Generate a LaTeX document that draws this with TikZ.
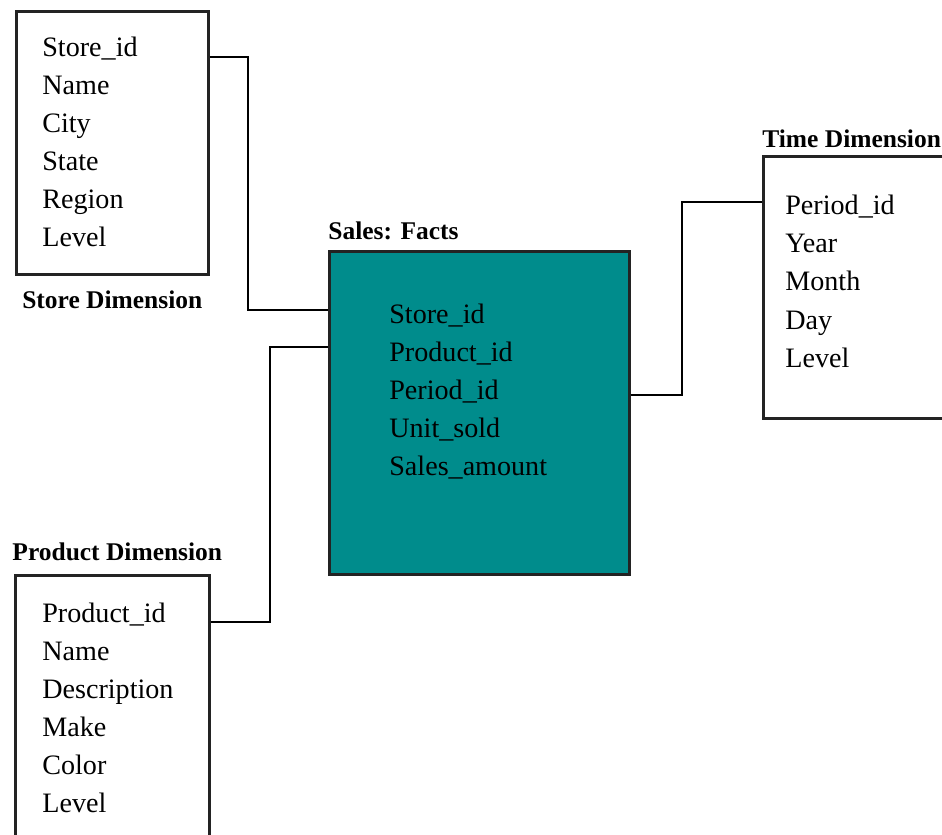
\documentclass[tikz,border=0pt]{standalone}
\usepackage{fontspec}
\setmainfont{Liberation Serif}
\usetikzlibrary{positioning}
\tikzstyle{screen} = [x = 0.02cm, y = -0.02cm]
\definecolor{factColor}{RGB}{0,140,140}
\definecolor{boxLineColor}{RGB}{35,35,35}
\tikzstyle{dimBoxStyle} = [draw=boxLineColor, line width=1.5pt, fill=white, anchor=north west, inner sep=0pt]
\tikzstyle{factBoxStyle} = [dimBoxStyle, fill=factColor]
\tikzstyle{fieldText} = [anchor=base west, inner sep=0pt, font=\fontsize{16}{19}\selectfont]
\tikzstyle{tableTitle} = [inner sep=0pt, font=\fontsize{14.5}{17}\selectfont\bfseries]
\tikzstyle{linkLine} = [color=black, line width=1.2pt]
\newcommand{\lineGap}{38}
\newcommand{\fieldList}[4]{
  \foreach \field [count=\i] in {#4} {
    \node [fieldText] (#1\i) at (#2, {#3 + \lineGap * (\i - 1)}) {\field};
  }
}
\begin{document}
\begin{tikzpicture}[screen]
  \useasboundingbox (0,0) rectangle (942,834);
  \clip (0,0) rectangle (942,834);

  % store dimension
  \node [dimBoxStyle, minimum width=3.84cm, minimum height=5.26cm] (store) at (15,10) {};
  \fieldList{store}{42}{57}{Store\_id,Name,City,State,Region,Level}
  \node [tableTitle, below=0.3cm of store] (storeTitle) {Store Dimension};

  % fact table
  \node [factBoxStyle, minimum width=6cm, minimum height=6.46cm] (fact) at (328,250) {};
  \fieldList{fact}{389}{323}{Store\_id,Product\_id,Period\_id,Unit\_sold,Sales\_amount}
  \node [tableTitle, above=0.2cm of fact.north west, anchor=south west] (factTitle) {Sales: Facts};

  % product dimension
  \node [dimBoxStyle, minimum width=3.88cm, minimum height=5.8cm] (product) at (14,574) {};
  \fieldList{product}{42}{622}{Product\_id,Name,Description,Make,Color,Level}
  \node [tableTitle, above=0.26cm of product, xshift=0.1cm] (productTitle) {Product Dimension};

  % time dimension
  \node [dimBoxStyle, minimum width=4cm, minimum height=5.24cm] (time) at (762,155) {};
  \fieldList{time}{785}{215}{Period\_id,Year,Month,Day,Level}
  \node [tableTitle, above=0.14cm of time.north west, anchor=south west] (timeTitle) {Time Dimension};

  \draw [linkLine] (store.east |- store1.base) -- ++(38,0) |- ([yshift=0.18cm]fact1.mid -| fact.west);
  \draw [linkLine] (product.east |- product1.base) -- ++(59,0) |- ([yshift=0.2cm]fact2.mid -| fact.west);
  \draw [linkLine] (fact.east |- fact3.mid) -- ++(51,0) |- ([yshift=0.18cm]time1.mid -| time.west);
\end{tikzpicture}
\end{document}
